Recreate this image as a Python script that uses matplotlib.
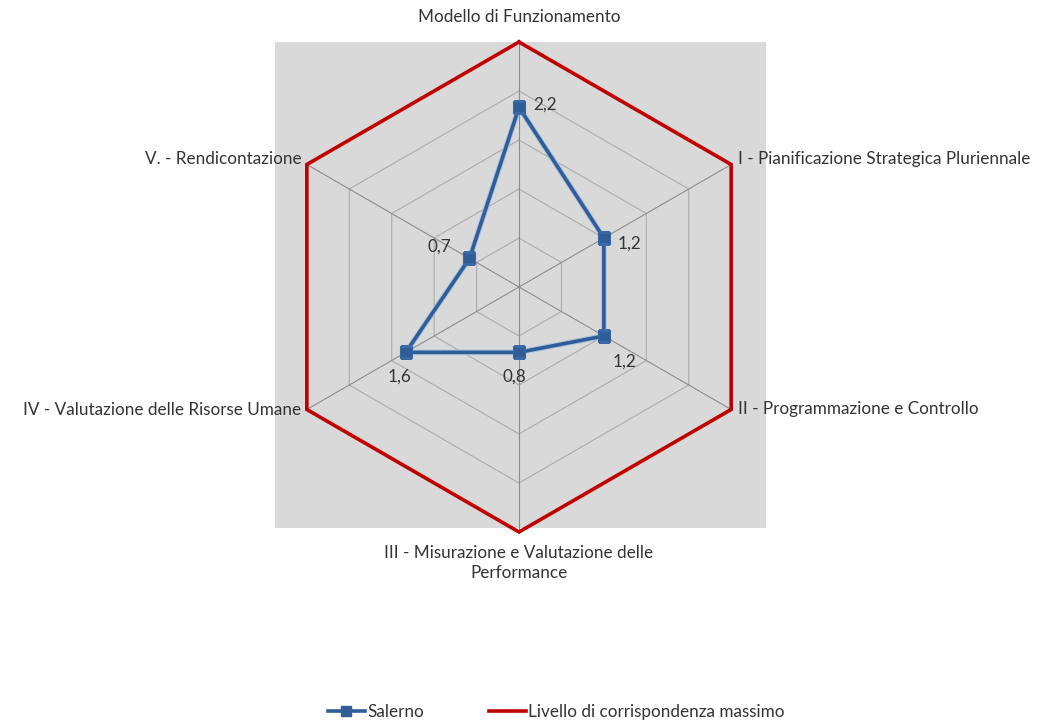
import numpy as np
import matplotlib
matplotlib.use("Agg")
import matplotlib.pyplot as plt
from matplotlib.lines import Line2D
import matplotlib.patheffects as pe

plt.rcParams['font.family'] = ['Lato', 'DejaVu Sans']

categories = [
    "Modello di Funzionamento",
    "I - Pianificazione Strategica Pluriennale",
    "II - Programmazione e Controllo",
    "III - Misurazione e Valutazione delle\nPerformance",
    "IV - Valutazione delle Risorse Umane",
    "V. - Rendicontazione",
]
salerno = [2.2, 1.2, 1.2, 0.8, 1.6, 0.7]
salerno_labels = ["2,2", "1,2", "1,2", "0,8", "1,6", "0,7"]
livello_massimo = [3, 3, 3, 3, 3, 3]
grid_levels = [0.6, 1.2, 1.8, 2.4]
r_max = 3

blue = "#2f5d97"
red = "#c00000"
text_color = "#333333"

fig = plt.figure(figsize=(10.45, 7.22), dpi=100)

# gray plot area behind the radar
bg = fig.add_axes([275 / 1045, 1 - 528 / 722, 491 / 1045, 486 / 722], zorder=0)
bg.set_facecolor("#d9d9d9")
bg.set_xticks([])
bg.set_yticks([])
for s in bg.spines.values():
    s.set_visible(False)

ax = fig.add_axes([274 / 1045, 1 - 532 / 722, 490 / 1045, 490 / 722],
                  projection="polar", zorder=1)
ax.set_facecolor("none")
ax.set_theta_offset(np.pi / 2)
ax.set_theta_direction(-1)
ax.set_ylim(0, r_max)
ax.set_xticks([])
ax.set_yticks([])
ax.grid(False)
ax.spines["polar"].set_visible(False)

n = len(categories)
theta = np.arange(n) * 2 * np.pi / n
theta_closed = np.append(theta, theta[0])

# hexagonal gridlines and spokes
for lv in grid_levels:
    ax.plot(theta_closed, [lv] * (n + 1), color="#ababab", lw=0.8, zorder=1)
for t in theta:
    ax.plot([t, t], [0, r_max], color="#8c8c8c", lw=0.8, zorder=1)

# maximum level
ax.plot(theta_closed, livello_massimo + livello_massimo[:1], color=red, lw=2.6,
        zorder=3, solid_joinstyle="miter", clip_on=False)

# Salerno series
ax.plot(theta_closed, salerno + salerno[:1], color=blue, lw=2.6, zorder=4,
        solid_joinstyle="round",
        path_effects=[pe.Stroke(linewidth=4.0, foreground="#a9c0e0"), pe.Normal()])
ax.plot(theta, salerno, linestyle="none", marker="s", markersize=8.5,
        color=blue, markeredgecolor="#3a69a4", markeredgewidth=0.8, zorder=5)

# category labels
label_offsets = [
    ((0, 12), "center", "bottom"),
    ((5, 4), "left", "center"),
    ((5, 0), "left", "center"),
    ((0, -9), "center", "top"),
    ((-4, 0), "right", "center"),
    ((-4, 4), "right", "center"),
]
for t, lab, (off, ha, va) in zip(theta, categories, label_offsets):
    ax.annotate(lab, xy=(t, r_max), xytext=off, textcoords="offset points",
                ha=ha, va=va, fontsize=12.3, color=text_color, linespacing=1.35,
                annotation_clip=False)

# value labels
value_offsets = [
    ((10, 2), "left", "center"),
    ((10, -4), "left", "center"),
    ((6, -13), "left", "top"),
    ((-12, -12), "left", "top"),
    ((-13, -12), "left", "top"),
    ((-13, 3), "right", "bottom"),
]
for t, v, lab, (off, ha, va) in zip(theta, salerno, salerno_labels, value_offsets):
    ax.annotate(lab, xy=(t, v), xytext=off, textcoords="offset points",
                ha=ha, va=va, fontsize=12.3, color=text_color)

handles = [
    Line2D([0], [0], color=blue, lw=2.6, marker="s", markersize=7),
    Line2D([0], [0], color=red, lw=2.6),
]
fig.legend(handles, ["Salerno", "Livello di corrispondenza massimo"],
           loc="center", bbox_to_anchor=(556 / 1045, 1 - 712 / 722), ncol=2,
           frameon=False, fontsize=12.3, handlelength=2.2, handletextpad=0.1,
           columnspacing=3.8, labelcolor=text_color)

fig.savefig("out.png", dpi=100)
